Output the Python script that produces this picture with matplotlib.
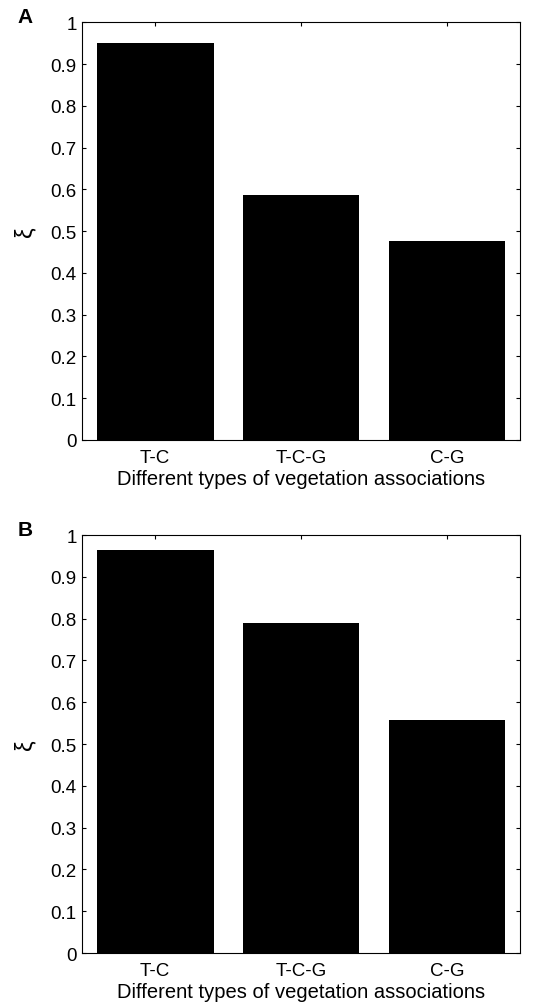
import matplotlib.pyplot as plt
import numpy as np

plt.rcParams['font.family'] = ['Liberation Sans', 'DejaVu Sans']

categories = ["T-C", "T-C-G", "C-G"]
values_a = [0.95, 0.587, 0.477]
values_b = [0.965, 0.79, 0.557]
panels = ["A", "B"]

fig = plt.figure(figsize=(5.44, 10.04), dpi=100)
boxes = [[0.151, 0.5608, 0.805, 0.416], [0.151, 0.0498, 0.805, 0.4163]]

for box, vals, name in zip(boxes, [values_a, values_b], panels):
    ax = fig.add_axes(box)
    x = np.arange(1, len(categories) + 1)
    ax.bar(x, vals, width=0.8, color="k")
    ax.set_xlim(0.5, 3.5)
    ax.set_ylim(0, 1)
    ax.set_xticks(x)
    ax.set_xticklabels(categories)
    ax.set_yticks(np.arange(0, 1.01, 0.1))
    ax.set_yticklabels(["0"] + ["%.1f" % v for v in np.arange(0.1, 0.95, 0.1)] + ["1"])
    ax.tick_params(direction="in", top=True, right=True, labelsize=13.5, length=3, width=0.8)
    ax.tick_params(axis="x", pad=6.5)
    ax.tick_params(axis="y", pad=4)
    for s in ax.spines.values():
        s.set_linewidth(0.8)
    ax.set_xlabel("Different types of vegetation associations", fontsize=14.5, labelpad=2)
    ax.set_ylabel("ξ", fontsize=17, labelpad=10)
    fig.text(0.033, box[1] + box[3] - 0.004, name, fontsize=15, fontweight="bold", va="bottom")

fig.savefig("out.png", dpi=100)
